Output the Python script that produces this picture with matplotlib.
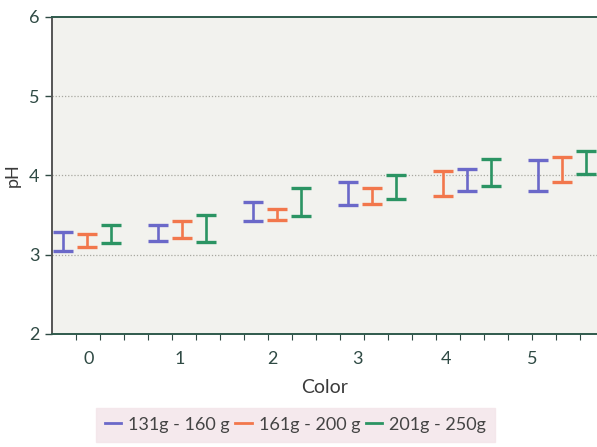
import numpy as np
import matplotlib
matplotlib.use("Agg")
import matplotlib.pyplot as plt
from matplotlib.lines import Line2D

plt.rcParams["font.family"] = ["Lato", "DejaVu Sans"]

# pH by color category, three fruit weight classes (low / high ends of each bar)
colors_cat = [0, 1, 2, 3, 4, 5]
labels = ["131g - 160 g", "161g - 200 g", "201g - 250g"]

low_131 = [3.05, 3.17, 3.43, 3.63, 3.80, 3.80]
high_131 = [3.29, 3.38, 3.67, 3.92, 4.08, 4.20]
low_161 = [3.10, 3.21, 3.44, 3.64, 3.74, 3.92]
high_161 = [3.26, 3.43, 3.58, 3.84, 4.06, 4.23]
low_201 = [3.15, 3.16, 3.49, 3.70, 3.87, 4.02]
high_201 = [3.38, 3.50, 3.84, 4.00, 4.21, 4.31]

# slot (left / middle / right) of each series per category
slots = [[0, 1, 2], [0, 1, 2], [0, 1, 2], [0, 1, 2], [1, 0, 2], [0, 1, 2]]

lows = [low_131, low_161, low_201]
highs = [high_131, high_161, high_201]
series_colors = ["#6b69c9", "#f2774c", "#2b9463"]
slot_offset = [-0.25, 0.0, 0.25]

fig = plt.figure(figsize=(5.97, 4.47), dpi=100)
fig.patch.set_facecolor("white")
ax = fig.add_axes([0.087, 0.253, 0.913, 0.709])
ax.set_facecolor("#f2f2ee")

for s in range(3):
    xs = [c + slot_offset[slots[i][s]] for i, c in enumerate(colors_cat)]
    lo = np.array(lows[s])
    hi = np.array(highs[s])
    mid = (lo + hi) / 2
    ax.errorbar(xs, mid, yerr=[mid - lo, hi - mid], fmt="none",
                ecolor=series_colors[s], elinewidth=1.9, capsize=7,
                capthick=2.4, clip_on=False)

ax.set_xlim(-0.37, 5.37)
ax.set_ylim(2, 6)

ax.set_yticks([2, 3, 4, 5, 6])
ax.set_xticks([0.02, 0.98, 1.95, 2.85, 3.78, 4.69])
ax.set_xticklabels([str(c) for c in colors_cat])
ax.set_xticks(np.arange(-0.12, 5.4, 0.253), minor=True)

for y in [3, 4, 5]:
    ax.axhline(y, color="#a8a8a0", lw=0.9, ls=(0, (1, 1.5)), zorder=0)

tick_col = "#2f4a44"
ax.tick_params(axis="y", length=5, width=1, colors=tick_col, labelsize=13,
               pad=4)
ax.tick_params(axis="x", which="major", length=0, colors=tick_col,
               labelsize=13, pad=12)
ax.tick_params(axis="x", which="minor", length=4, width=0.8, colors=tick_col)

for side in ["top", "bottom"]:
    ax.spines[side].set_color("#2f5a4c")
    ax.spines[side].set_linewidth(1.4)
ax.spines["left"].set_color("#555555")
ax.spines["left"].set_linewidth(1.4)
ax.spines["right"].set_visible(False)

ax.set_xlabel("Color", fontsize=14, color="#3a3a3a", labelpad=9)
ax.set_ylabel("pH", fontsize=13, color="#3a3a3a", labelpad=6)

handles = [Line2D([0], [0], color=c, lw=2) for c in series_colors]
leg = fig.legend(handles, labels, loc="center", bbox_to_anchor=(0.495, 0.05),
                 ncol=3, frameon=True, fontsize=13, handlelength=0.9,
                 handletextpad=0.4, columnspacing=0.3, borderpad=0.3)
leg.get_frame().set_facecolor("#f3e4e9")
leg.get_frame().set_edgecolor("#f3e4e9")
leg.get_frame().set_boxstyle("square", pad=0.2)
for t in leg.get_texts():
    t.set_color("#444444")

fig.savefig("out.png", dpi=100)
